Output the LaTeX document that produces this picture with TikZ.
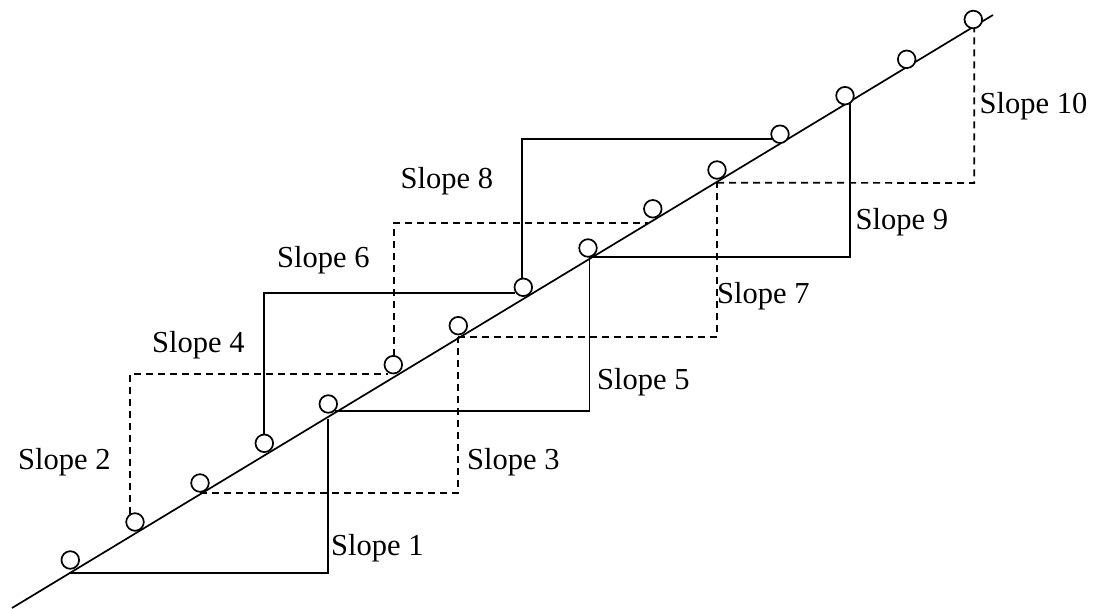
\documentclass[tikz,border=0pt]{standalone}
\usepackage{fontspec}
\setmainfont{Liberation Serif}
\begin{document}
\begin{tikzpicture}[x=1pt,y=-1pt,
  ln/.style={line width=1.7pt},
  dsh/.style={line width=1.7pt, dash pattern=on 7pt off 5pt},
  dot/.style={circle, draw, line width=1.7pt, minimum size=17.6pt, inner sep=0pt, fill=white},
  lbl/.style={anchor=base west, inner sep=0pt, font=\fontsize{30.5}{36}\selectfont}]
\useasboundingbox (0,0) rectangle (1096,609);
% main line
\coordinate (L0) at (12,608);
\coordinate (L1) at (993,15);
\draw[ln] (L0) -- (L1);

% corner / end coordinates
\coordinate (a1) at (70,573);    \coordinate (a2) at (328.3,573);  \coordinate (a3) at (328.3,419);
\coordinate (b1) at (130,514);   \coordinate (b2) at (130,374.3);  \coordinate (b3) at (388,374.3);
\coordinate (d1) at (200,493.3); \coordinate (d2) at (457.7,493.3);\coordinate (d3) at (457.7,336.7);
\coordinate (e1) at (264,434);   \coordinate (e2) at (264,292.7);  \coordinate (e3) at (515,292.7);
\coordinate (f1) at (335,411);   \coordinate (f2) at (589.5,411);  \coordinate (f3) at (589.5,257.3);
\coordinate (g1) at (394,356);   \coordinate (g2) at (394,222.7);  \coordinate (g3) at (648,222.7);
\coordinate (h2) at (717,336.7); \coordinate (h3) at (717,182.7);
\coordinate (i1) at (521.7,279); \coordinate (i2) at (521.7,139);  \coordinate (i3) at (772,139);
\coordinate (j2) at (850,257.3); \coordinate (j3) at (850,103.3);
\coordinate (k2) at (974.3,183); \coordinate (k3) at (974.3,29);

% solid steps
\draw[ln] (a1) -- (a2) -- (a3);
\draw[ln] (e1) -- (e2) -- (e3);
\draw[ln] (f1) -- (f2) -- (f3);
\draw[ln] (i1) -- (i2) -- (i3);
\draw[ln] (f3) -- (j2) -- (j3);
% dashed steps
\draw[dsh] (b1) -- (b2) -- (b3);
\draw[dsh] (d1) -- (d2) -- (d3);
\draw[dsh] (g1) -- (g2) -- (g3);
\draw[dsh] (d3) -- (h2) -- (h3);
\draw[dsh] (h3) -- (k2) -- (k3);

% circles
\node[dot] (c1)  at (70.3,560) {};
\node[dot] (c2)  at (135,522) {};
\node[dot] (c3)  at (200,483) {};
\node[dot] (c4)  at (264.3,443.3) {};
\node[dot] (c5)  at (328.3,404) {};
\node[dot] (c6)  at (393.3,364.7) {};
\node[dot] (c7)  at (458.3,325.7) {};
\node[dot] (c8)  at (523.3,287.3) {};
\node[dot] (c9)  at (588,248) {};
\node[dot] (c10) at (652.8,208.8) {};
\node[dot] (c11) at (717,170) {};
\node[dot] (c12) at (780,134.2) {};
\node[dot] (c13) at (845,95.7) {};
\node[dot] (c14) at (906.7,59.3) {};
\node[dot] (c15) at (973.3,19.5) {};

% labels
\node[lbl] (t1)  at (331,555.7) {Slope 1};
\node[lbl] (t2)  at (18,469.3) {Slope 2};
\node[lbl] (t3)  at (467,469.3) {Slope 3};
\node[lbl] (t4)  at (152,352.7) {Slope 4};
\node[lbl] (t5)  at (597,390) {Slope 5};
\node[lbl] (t6)  at (277,267.3) {Slope 6};
\node[lbl] (t7)  at (717,303.3) {Slope 7};
\node[lbl] (t8)  at (400.5,188.3) {Slope 8};
\node[lbl] (t9)  at (855.5,230) {Slope 9};
\node[lbl] (t10) at (979.5,114) {Slope 10};
\end{tikzpicture}
\end{document}
